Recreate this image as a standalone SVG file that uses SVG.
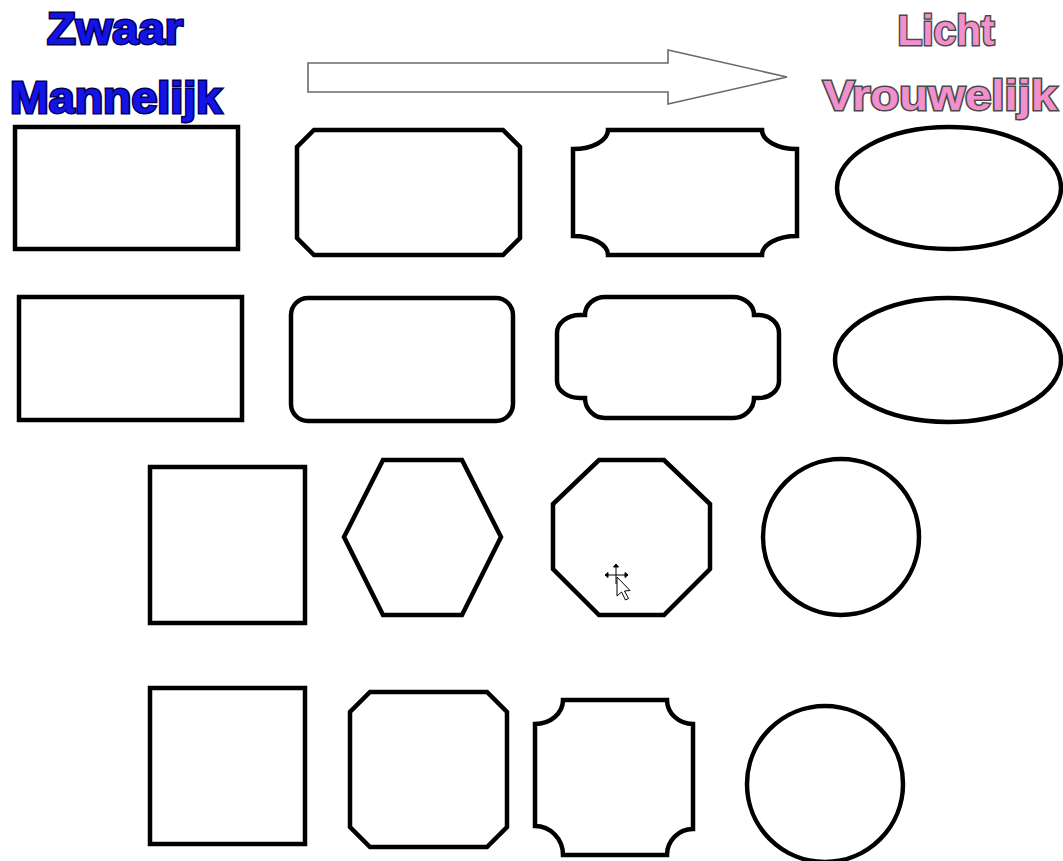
<svg xmlns="http://www.w3.org/2000/svg" width="1063" height="861" viewBox="0 0 1063 861">
<style>
.s{fill:#fff;stroke:#000;stroke-width:4.5;stroke-linejoin:miter}
.tb{font-family:"Liberation Sans",Arial,sans-serif;font-weight:bold;fill:#1414e6;stroke:#00005a;stroke-width:3;paint-order:stroke;text-anchor:middle}
.tp{font-family:"Liberation Sans",Arial,sans-serif;font-weight:bold;fill:#f290cd;stroke:#4a4a4a;stroke-width:3;paint-order:stroke;text-anchor:middle}
</style>
<rect width="1063" height="861" fill="#fff"/>
<g id="titles">
<text class="tb" x="115" y="44" font-size="45" textLength="136" lengthAdjust="spacingAndGlyphs">Zwaar</text>
<text class="tb" x="116" y="113" font-size="45" textLength="212" lengthAdjust="spacingAndGlyphs">Mannelijk</text>
<text class="tp" x="946" y="45" font-size="42" textLength="97" lengthAdjust="spacingAndGlyphs">Licht</text>
<text class="tp" x="940" y="110" font-size="42" textLength="234" lengthAdjust="spacingAndGlyphs">Vrouwelijk</text>
</g>
<g id="connectors">
<path d="M308,63 H668 V50 L787,77 L668,104 V92 H308 Z" fill="#fff" stroke="#6a6a6a" stroke-width="1.6"/>
</g>
<g id="row1">
<rect id="r1c1" class="s" x="15" y="127" width="223" height="122"/>
<path id="r1c2" class="s" d="M314,130 H503 L520,147 V238 L503,255 H314 L297,238 V147 Z"/>
<path id="r1c3" class="s" d="M608,130 H762 A35 19 0 0 0 797,149 V236 A35 19 0 0 0 762,255 H608 A35 19 0 0 0 573,236 V149 A35 19 0 0 0 608,130 Z"/>
<ellipse id="r1c4" class="s" cx="949" cy="188" rx="112" ry="61"/>
</g>
<g id="row2">
<rect id="r2c1" class="s" x="19" y="297" width="223" height="123"/>
<rect id="r2c2" class="s" x="291" y="298" width="222" height="123" rx="17"/>
<path id="r2c3" class="s" d="M605,297 H733 A21 18 0 0 1 754,315 H759 A20 18 0 0 1 779,333 V381 A20 17 0 0 1 759,398 H754 A21 20 0 0 1 733,418 H605 A20 20 0 0 1 585,398 H580 A23 17 0 0 1 557,381 V333 A23 18 0 0 1 580,315 H585 A20 18 0 0 1 605,297 Z"/>
<ellipse id="r2c4" class="s" cx="948" cy="360" rx="113" ry="62"/>
</g>
<g id="row3">
<rect id="r3c1" class="s" x="150" y="467" width="155" height="156"/>
<polygon id="r3c2" class="s" points="383,460 462,460 501,537 462,615 383,615 344,537"/>
<polygon id="r3c3" class="s" points="599,460 664,460 710,504 710,569 664,615 599,615 553,569 553,504"/>
<circle id="r3c4" class="s" cx="841" cy="537" r="78"/>
</g>
<g id="row4">
<rect id="r4c1" class="s" x="150" y="688" width="155" height="156"/>
<path id="r4c2" class="s" d="M370,692 H487 L507,712 V827 L487,847 H370 L350,827 V712 Z"/>
<path id="r4c3" class="s" d="M563,700 H667 A26 24 0 0 0 693,724 V829 A26 26 0 0 0 667,855 H563 A28 29 0 0 0 535,826 V724 A28 24 0 0 0 563,700 Z"/>
<circle id="r4c4" class="s" cx="825" cy="784" r="78"/>
</g>
<g id="cursor" stroke="#000" stroke-width="1" fill="#000">
<path d="M607,575 H626 M616,566 V584" fill="none"/>
<path d="M605,575 l3,-2.5 v5 z M628,575 l-3,-2.5 v5 z M616,564 l-2.5,3 h5 z"/>
<path d="M617,577 V596 L621.5,592 L625.5,600 L628.5,598.5 L624.5,591 L630,590.5 Z" fill="#fff" stroke="#000" stroke-width="1"/>
</g>
</svg>
